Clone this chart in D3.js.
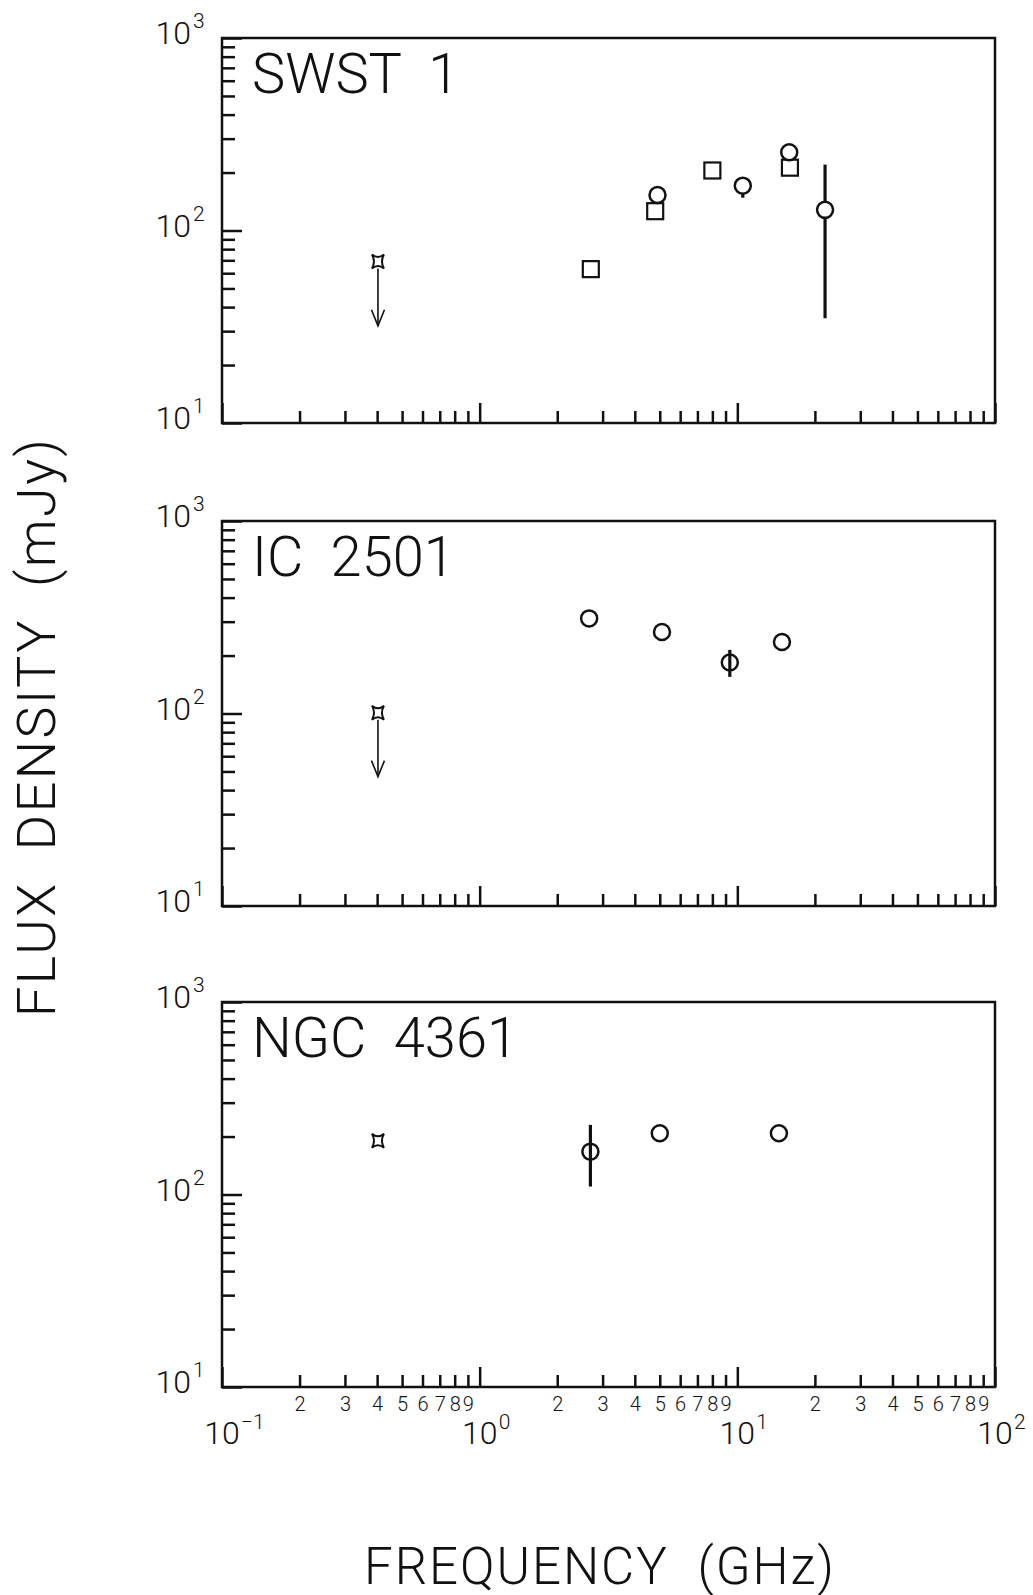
<!DOCTYPE html>
<html>
<head>
<meta charset="utf-8">
<script src="https://cdn.jsdelivr.net/npm/d3@7"></script>
<style>
  body { margin: 0; background: #fff; }
  svg text { font-family: Roboto, "DejaVu Sans", sans-serif; font-weight: 300; fill: #111; white-space: pre; }
</style>
</head>
<body>
<svg id="chart" width="1033" height="1595"></svg>
<script>
// source names, top to bottom
const panelNames = ["SWST  1", "IC  2501", "NGC  4361"];

// open squares [GHz, mJy] (SWST 1 only)
const swstSquares = [[2.7, 63], [4.8, 126], [8.0, 205], [16.0, 212]];

// open circles [GHz, mJy, error low, error high]
const swstCircles = [[4.9, 153], [10.5, 171, 148, 186], [15.9, 255], [21.9, 128, 35, 220]];
const ic2501Circles = [[2.66, 312], [5.1, 265], [9.35, 184, 155, 214], [14.9, 235]];
const ngc4361Circles = [[2.69, 167, 110, 230], [5.0, 208], [14.5, 208]];

// 408 MHz points [GHz, mJy, arrow tip for upper limits]
const starPoints = [[0.403, 69, 32], [0.403, 101, 47], [0.403, 190, null]];

// axes
const xDomain = [0.1, 100];
const yDomain = [10, 1000];
const xMajor = [0.1, 1, 10, 100];
const yMajor = [10, 100, 1000];
const minorSteps = [2, 3, 4, 5, 6, 7, 8, 9];

const xLabel = "FREQUENCY  (GHz)";
const yLabel = "FLUX  DENSITY  (mJy)";

// layout
const panelTops = [38, 521, 1002];
const panelH = 385;
const ink = "#111";

const svg = d3.select("#chart");

const x = d3.scaleLog().domain(xDomain).range([222, 995]);

const minorOf = (majors) => majors.slice(0, -1)
    .flatMap(m => minorSteps.map(k => m * k));
const xMinor = minorOf(xMajor);
const yMinor = minorOf(yMajor);

const circleSets = [swstCircles, ic2501Circles, ngc4361Circles];
const circleFill = ["#fff", "none", "none"];

function styleAxis(g, width)
{
    g.select(".domain").remove();
    g.selectAll(".tick line").attr("stroke", ink).attr("stroke-width", width);
}

panelNames.forEach((name, i) => {
    const top = panelTops[i];
    const bottom = top + panelH;
    const y = d3.scaleLog().domain(yDomain).range([bottom, top]);
    const isLast = (i === panelNames.length - 1);

    const g = svg.append("g").attr("class", "panel");

    // x ticks (inward)
    g.append("g")
        .attr("transform", `translate(0,${bottom})`)
        .call(d3.axisBottom(x).tickValues(xMinor).tickSizeInner(-12).tickSizeOuter(0).tickPadding(10)
            .tickFormat(d => isLast ? String(Math.round(d / Math.pow(10, Math.floor(Math.log10(d) + 1e-9)))) : ""))
        .call(a => styleAxis(a, 2.5))
        .call(a => a.attr("font-family", null).attr("font-size", null)
            .selectAll("text").style("font-size", "20px").attr("fill", ink));

    g.append("g")
        .attr("transform", `translate(0,${bottom})`)
        .call(d3.axisBottom(x).tickValues(xMajor).tickSizeInner(-20).tickSizeOuter(0).tickFormat(""))
        .call(a => styleAxis(a, 2.5));

    // y ticks (inward)
    g.append("g")
        .attr("transform", `translate(${x(xDomain[0])},0)`)
        .call(d3.axisLeft(y).tickValues(yMinor).tickSizeInner(-13).tickSizeOuter(0).tickFormat(""))
        .call(a => styleAxis(a, 2.5));

    g.append("g")
        .attr("transform", `translate(${x(xDomain[0])},0)`)
        .call(d3.axisLeft(y).tickValues(yMajor).tickSizeInner(-20).tickSizeOuter(0).tickFormat(""))
        .call(a => styleAxis(a, 2.5));

    // frame
    g.append("rect")
        .attr("x", x(xDomain[0]))
        .attr("y", top)
        .attr("width", x(xDomain[1]) - x(xDomain[0]))
        .attr("height", panelH)
        .attr("fill", "none")
        .attr("stroke", ink)
        .attr("stroke-width", 2.5);

    // y tick labels 10^n
    const yl = g.append("g");
    yMajor.forEach(v => {
        const p = Math.round(Math.log10(v));
        yl.append("text").attr("x", 191).attr("y", y(v) + 6)
            .attr("text-anchor", "end").style("font-size", "32px").text("10");
        yl.append("text").attr("x", 193).attr("y", y(v) - 10)
            .style("font-size", "21px").text(p);
    });

    // source name
    g.append("text")
        .attr("x", x(xDomain[0]) + 30)
        .attr("y", top + 55)
        .style("font-size", "56px")
        .text(name);

    // error bars
    const circles = circleSets[i];
    g.selectAll("line.err")
        .data(circles.filter(d => d.length > 2))
        .join("line")
        .attr("class", "err")
        .attr("x1", d => x(d[0])).attr("x2", d => x(d[0]))
        .attr("y1", d => y(d[2])).attr("y2", d => y(d[3]))
        .attr("stroke", ink)
        .attr("stroke-width", 3.2);

    // squares
    if (i === 0) {
        g.selectAll("rect.sq")
            .data(swstSquares)
            .join("rect")
            .attr("class", "sq")
            .attr("x", d => x(d[0]) - 8).attr("y", d => y(d[1]) - 8)
            .attr("width", 16).attr("height", 16)
            .attr("fill", "#fff")
            .attr("stroke", ink)
            .attr("stroke-width", 2.2);
    }

    // circles
    g.selectAll("circle.pt")
        .data(circles)
        .join("circle")
        .attr("class", "pt")
        .attr("cx", d => x(d[0])).attr("cy", d => y(d[1]))
        .attr("r", 8)
        .attr("fill", circleFill[i])
        .attr("stroke", ink)
        .attr("stroke-width", 2.5);

    // 408 MHz point, with arrow for upper limits
    const s = starPoints[i];
    const sx = x(s[0]), sy = y(s[1]);
    g.append("path")
        .attr("transform", `translate(${sx},${sy})`)
        .attr("d", "M-6,-7Q0,-2 6,-7Q2,0 6,7Q0,2 -6,7Q-2,0 -6,-7Z")
        .attr("fill", "none")
        .attr("stroke", ink)
        .attr("stroke-width", 2);
    if (s[2] !== null) {
        const ty = y(s[2]);
        g.append("line")
            .attr("x1", sx).attr("x2", sx)
            .attr("y1", sy + 7).attr("y2", ty)
            .attr("stroke", ink).attr("stroke-width", 1.6);
        g.append("path")
            .attr("d", `M${sx - 6.5},${ty - 16}L${sx},${ty}L${sx + 6.5},${ty - 16}`)
            .attr("fill", "none")
            .attr("stroke", ink).attr("stroke-width", 1.6);
    }

    // decade labels below the last panel
    if (isLast) {
        xMajor.forEach(v => {
            const p = Math.round(Math.log10(v));
            g.append("text").attr("x", x(v)).attr("y", bottom + 57)
                .attr("text-anchor", "middle").style("font-size", "32px").text("10");
            g.append("text").attr("x", x(v) + 19).attr("y", bottom + 42)
                .style("font-size", "21px").text(p < 0 ? "\u2212" + (-p) : p);
        });
    }
});

// axis titles
svg.append("text")
    .attr("x", 364)
    .attr("y", 1584)
    .attr("textLength", 470)
    .attr("lengthAdjust", "spacing")
    .style("font-size", "51px")
    .text(xLabel);

svg.append("text")
    .attr("transform", "translate(55,1017) rotate(-90)")
    .attr("textLength", 578)
    .attr("lengthAdjust", "spacing")
    .style("font-size", "54px")
    .text(yLabel);
</script>
</body>
</html>
